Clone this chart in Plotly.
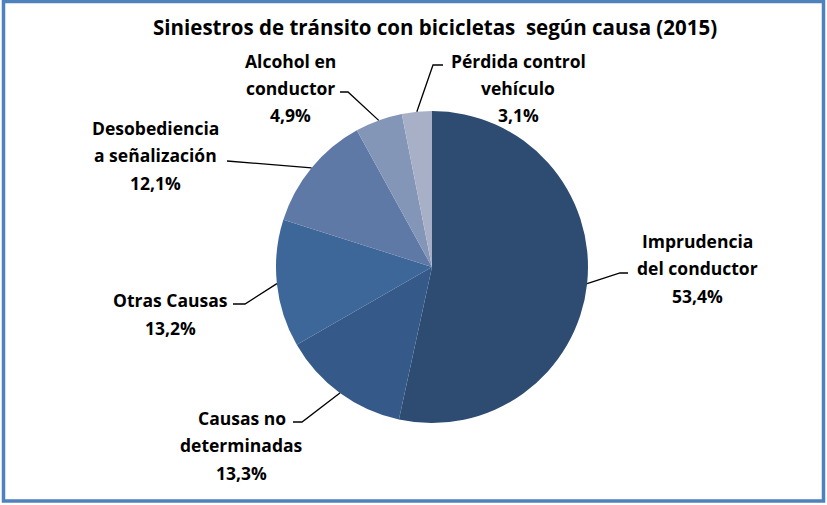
import math
import plotly.graph_objects as go

# Data
causes = ["Imprudencia<br>del conductor", "Causas no<br>determinadas", "Otras Causas",
          "Desobediencia<br>a señalización", "Alcohol en<br>conductor", "Pérdida control<br>vehículo"]
shares = [53.4, 13.3, 13.2, 12.1, 4.9, 3.1]
title_text = "Siniestros de tránsito con bicicletas  según causa (2015)"

# Style / layout (pixels)
W, H = 827, 505
CX, CY, R = 432, 267, 156
colors = ["#2E4C72", "#355A89", "#3D6699", "#5F79A6", "#8496B8", "#A8B0C8"]
# label block centre, leader elbow and leader end, in pixels
label_pos = [(697, 268), (242, 445), (170, 314), (155, 155), (290, 88), (518, 88)]
elbows = [(620, 273), (302, 422), (245, 304), (227, 161), (348, 92), (433, 65)]
ends = [(628, 273), (293, 422), (233, 304), (227, 161), (340, 92), (443, 65)]
FONT = "Open Sans"
LINE_GAP = 27.5


def px(x, y):
    return x / W, 1 - y / H


fig = go.Figure()
fig.add_trace(go.Pie(
    labels=causes, values=shares, sort=False, direction="clockwise", rotation=0,
    marker=dict(colors=colors, line=dict(width=0)),
    textinfo="none", hoverinfo="label+percent", showlegend=False,
    domain=dict(x=[(CX - R) / W, (CX + R) / W], y=[1 - (CY + R) / H, 1 - (CY - R) / H]),
))

shapes = []
annotations = []
total = sum(shares)
cum = 0.0
for i, (name, v) in enumerate(zip(causes, shares)):
    mid = (cum + v / 2) / total * 2 * math.pi
    cum += v
    ex, ey = CX + R * math.sin(mid), CY - R * math.cos(mid)
    p0 = px(ex, ey)
    p1 = px(*elbows[i])
    p2 = px(*ends[i])
    shapes.append(dict(type="path", xref="paper", yref="paper",
                       path=f"M {p0[0]},{p0[1]} L {p1[0]},{p1[1]} L {p2[0]},{p2[1]}",
                       line=dict(color="black", width=1.3)))
    lines = name.split("<br>") + [f"{v:.1f}%".replace(".", ",")]
    lx, ly = label_pos[i]
    n = len(lines)
    for j, t in enumerate(lines):
        yy = ly + (j - (n - 1) / 2) * LINE_GAP
        ax, ay = px(lx, yy)
        annotations.append(dict(x=ax, y=ay, xref="paper", yref="paper", text=f"<b>{t}</b>",
                                showarrow=False, xanchor="center", yanchor="middle",
                                font=dict(family=FONT, size=17.5, color="black")))

annotations.append(dict(x=435 / W, y=1 - 27 / H, xref="paper", yref="paper",
                        text=f"<b>{title_text}</b>", showarrow=False,
                        xanchor="center", yanchor="middle",
                        font=dict(family=FONT, size=20.5, color="black")))

# chart border
shapes.append(dict(type="rect", xref="paper", yref="paper",
                   x0=3.5 / W, x1=823.5 / W, y0=1 - 501 / H, y1=1 - 1.5 / H,
                   line=dict(color="#4F81BD", width=3.5)))

fig.update_layout(
    width=W, height=H,
    margin=dict(l=0, r=0, t=0, b=0),
    paper_bgcolor="white", plot_bgcolor="white",
    shapes=shapes, annotations=annotations,
)

fig.write_html("out.html", config={"displayModeBar": False},
               post_script="document.body.style.margin='0';")
